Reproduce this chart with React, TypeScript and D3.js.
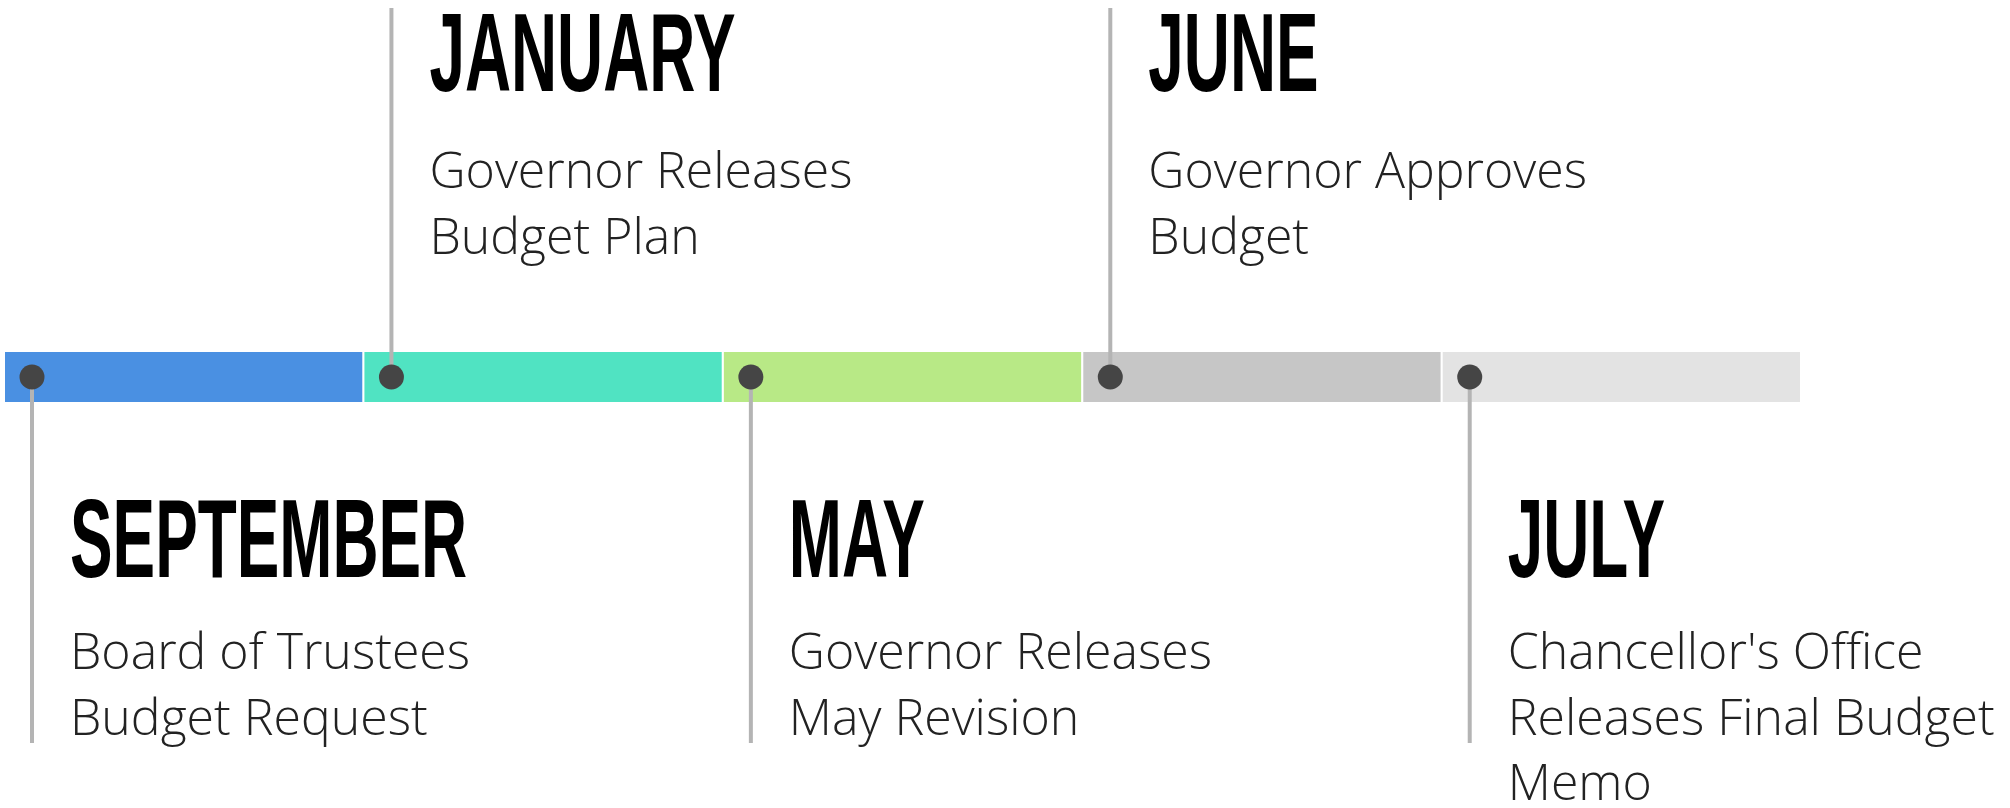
import React from "react";
import * as d3 from "d3";

const months: string[] = ["SEPTEMBER", "JANUARY", "MAY", "JUNE", "JULY"];
const eventLines: string[][] = [
  ["Board of Trustees", "Budget Request"],
  ["Governor Releases", "Budget Plan"],
  ["Governor Releases", "May Revision"],
  ["Governor Approves", "Budget"],
  ["Chancellor's Office", "Releases Final Budget", "Memo"],
];
const placement: string[] = ["below", "above", "below", "above", "below"];
const segmentColors: string[] = ["#4a90e2", "#50e3c2", "#b8e986", "#c6c6c6", "#e3e3e3"];

const W = 2010;
const H = 808;

export default function App() {
  const x = d3.scaleBand<string>().domain(months).range([5, 1800]).paddingInner(0.006).paddingOuter(0);
  const barTop = 352;
  const barH = 50;
  const cy = barTop + barH / 2;
  const dotOffset = 27;
  const titleOffset = 38;
  const bodyOffset = 38;
  const lineH = 65.5;

  return (
    <svg width={W} height={H} style={{ position: "absolute", left: 0, top: 0, background: "#fff" }}>
      {months.map((m, i) => (
        <rect key={"seg" + m} x={x(m)} y={barTop} width={x.bandwidth()} height={barH} fill={segmentColors[i]} />
      ))}
      {months.map((m, i) => {
        const dx = (x(m) as number) + dotOffset;
        const above = placement[i] === "above";
        return (
          <line
            key={"ln" + m}
            x1={dx}
            x2={dx}
            y1={above ? 8 : cy}
            y2={above ? cy : 743}
            stroke="#b4b4b4"
            strokeWidth={4}
          />
        );
      })}
      {months.map((m) => (
        <circle key={"dot" + m} cx={(x(m) as number) + dotOffset} cy={cy} r={12.5} fill="#454545" />
      ))}
      {months.map((m, i) => {
        const dx = (x(m) as number) + dotOffset;
        const above = placement[i] === "above";
        const titleBase = above ? 91 : 577;
        const bodyBase = above ? 188 : 669;
        return (
          <g key={"txt" + m}>
            <g transform={`translate(${dx + titleOffset},${titleBase}) scale(0.57,1)`}>
              <text
                x={0}
                y={0}
                fontFamily="'Liberation Sans', Arial, sans-serif"
                fontWeight={700}
                fontSize={112}
                fill="#000"
              >
                {m}
              </text>
            </g>
            {eventLines[i].map((t, j) => (
              <text
                key={j}
                x={dx + bodyOffset}
                y={bodyBase + j * lineH}
                fontFamily="'Open Sans', 'Noto Sans', sans-serif"
                fontWeight={300}
                fontSize={50}
                fill="#222"
              >
                {t}
              </text>
            ))}
          </g>
        );
      })}
    </svg>
  );
}
